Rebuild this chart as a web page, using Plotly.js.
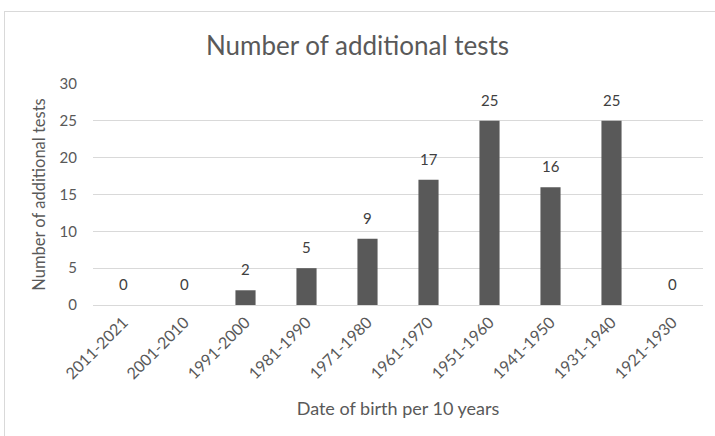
<!DOCTYPE html>
<html>
<head>
<meta charset="utf-8">
<script src="https://cdn.plot.ly/plotly-3.0.1.min.js"></script>
<style>
  html, body { margin: 0; padding: 0; background: #ffffff; }
  #frame { position: absolute; left: 4px; top: 11px; width: 720px; height: 440px; border: 1px solid #d9d9d9; box-sizing: border-box; }
  #chart { position: absolute; left: 0; top: 0; width: 715px; height: 436px; }
</style>
</head>
<body>
<div id="frame"></div>
<div id="chart"></div>
<script>
const categories = ["2011-2021", "2001-2010", "1991-2000", "1981-1990", "1971-1980", "1961-1970", "1951-1960", "1941-1950", "1931-1940", "1921-1930"];
const tests = [0, 0, 2, 5, 9, 17, 25, 16, 25, 0];
const yTicks = [0, 5, 10, 15, 20, 25, 30];

const fontFam = "Lato, 'Open Sans', 'DejaVu Sans', sans-serif";

const trace = {
  type: "bar",
  x: categories,
  y: tests,
  marker: { color: "#595959" },
  hoverinfo: "x+y"
};

const annotations = categories.map((c, i) => ({
  x: c, y: tests[i], xref: "x", yref: "y",
  text: String(tests[i]), showarrow: false,
  yanchor: "bottom", yshift: 10,
  font: { family: fontFam, size: 15, color: "#404040" }
}));

const layout = {
  width: 715, height: 436,
  paper_bgcolor: "rgba(0,0,0,0)",
  plot_bgcolor: "rgba(0,0,0,0)",
  margin: { l: 93, r: 12, t: 84, b: 131 },
  bargap: 0.67,
  showlegend: false,
  title: {
    text: "Number of additional tests",
    font: { family: fontFam, size: 26, color: "#595959" },
    x: 0.5, xanchor: "center", y: 0.894, yanchor: "middle"
  },
  xaxis: {
    type: "category",
    tickangle: -45,
    tickfont: { family: fontFam, size: 16, color: "#595959" },
    showgrid: false, showline: false, ticks: "",
    ticklabelstandoff: 4,
    title: { text: "Date of birth per 10 years", font: { family: fontFam, size: 18, color: "#595959" }, standoff: 20 }
  },
  yaxis: {
    range: [0, 30],
    tickvals: yTicks,
    tickfont: { family: fontFam, size: 15, color: "#595959" },
    showgrid: true, gridcolor: "#d9d9d9", gridwidth: 1,
    zeroline: true, zerolinecolor: "#d9d9d9", zerolinewidth: 1,
    showline: false, ticks: "", ticklen: 0,
    ticklabelstandoff: 15,
    title: { text: "Number of additional tests", font: { family: fontFam, size: 16.5, color: "#595959" }, standoff: 9 }
  },
  annotations: annotations
};

Plotly.newPlot("chart", [trace], layout, { displayModeBar: false, staticPlot: true });
</script>
</body>
</html>
